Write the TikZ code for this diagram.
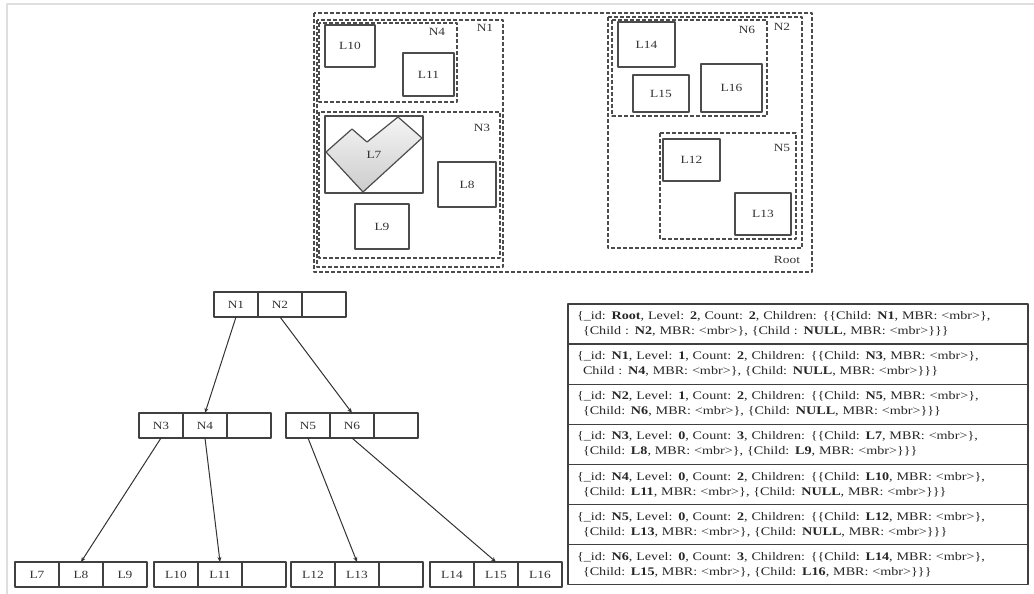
\documentclass[tikz,border=0pt]{standalone}
\usepackage{fontspec}
\setmainfont{Liberation Serif}[FakeStretch=1.22]
\usetikzlibrary{positioning,arrows.meta}

\begin{document}
\begin{tikzpicture}[x=1pt, y=-1pt, line join=round,
    mbr/.style={draw=black!70, line width=1.1pt, dash pattern=on 4pt off 2pt},
    leafbox/.style={draw=black!70, line width=1.4pt, inner sep=0pt, text=black!80, font=\fontsize{11}{13}\selectfont},
    tag/.style={text=black!80, inner sep=0pt, font=\fontsize{11}{13}\selectfont},
    cell/.style={draw=black!75, line width=1.3pt, minimum width=44pt, minimum height=25pt, inner sep=0pt, outer sep=0pt, text=black!80, font=\fontsize{11}{13}\selectfont},
    rowbox/.style={draw=black!75, line width=1.3pt, text width=442pt, inner xsep=9pt, inner ysep=0pt, minimum height=40.1pt, outer sep=0pt, align=left, text=black!85, font=\fontsize{11.6}{15}\selectfont},
    link/.style={draw=black!80, line width=1pt, line cap=round, -{Stealth[length=5pt,width=4pt]}}]
  \useasboundingbox (0,0) rectangle (1034,594);
  \draw[gray!25, line width=2pt] (7,594) -- (7,4) -- (1034,4);

  % spatial layout of the MBRs
  \shade[top color=gray!8, bottom color=gray!40, draw=black!70, line width=1.2pt]
    (326,152) -- (352,129) -- (367,142) -- (398,117) -- (422,138) -- (363,192) -- cycle;
  \foreach \n/\cx/\cy/\w/\h in {7/374/154.5/98/77, 8/467/184.5/58/45, 9/382/226.5/54/45,
      10/350/46/50/42, 11/428.5/74.5/51/43, 12/691.5/160/57/42, 13/763/214/56/42,
      14/646.5/44.5/57/45, 15/661/93.5/56/37, 16/731.5/88/61/48}
    \node[leafbox, minimum width=\w pt, minimum height=\h pt] (m\n) at (\cx,\cy) {L\n};
  \foreach \t/\xa/\ya/\xb/\yb/\lx/\ly in {Root/314/13/812/272/787/260, N1/317/20/503/267/485/28,
      N4/319/23/457/102/437/32, N3/319/112/500/258/482/128, N2/608/17/802/248/782/27,
      N6/612/20/767/116/747/30, N5/660/133/796/239/782/148} {
    \draw[mbr] (\xa,\ya) rectangle (\xb,\yb);
    \node[tag] (lab\t) at (\lx,\ly) {\t};
  }

  % R-tree
  \node[cell] (n1) at (236,304.5) {N1};
  \node[cell, right=0pt of n1] (n2) {N2};
  \node[cell, right=0pt of n2] (r3) {};
  \node[cell] (n3) at (161,425.5) {N3};
  \node[cell, right=0pt of n3] (n4) {N4};
  \node[cell, right=0pt of n4] (a3) {};
  \node[cell] (n5) at (308,425.5) {N5};
  \node[cell, right=0pt of n5] (n6) {N6};
  \node[cell, right=0pt of n6] (b3) {};
  \node[cell] (l7) at (37,574.5) {L7};
  \node[cell, right=0pt of l7] (l8) {L8};
  \node[cell, right=0pt of l8] (l9) {L9};
  \node[cell] (l10) at (176,574.5) {L10};
  \node[cell, right=0pt of l10] (l11) {L11};
  \node[cell, right=0pt of l11] (c3) {};
  \node[cell] (l12) at (313,574.5) {L12};
  \node[cell, right=0pt of l12] (l13) {L13};
  \node[cell, right=0pt of l13] (d3) {};
  \node[cell] (l14) at (452,574.5) {L14};
  \node[cell, right=0pt of l14] (l15) {L15};
  \node[cell, right=0pt of l15] (l16) {L16};
  \draw[link] (n1.south) -- (n4.north);
  \draw[link] (n2.south) -- (n6.north);
  \draw[link] (n3.south) -- (l8.north);
  \draw[link] (n4.south) -- (l11.north);
  \draw[link] (n5.south) -- (l13.north);
  \draw[link] (n6.south) -- (l15.north);

  % node records
  \node[rowbox, anchor=north west] (t0) at (568,304) {\{\_id: \textbf{Root}, Level: \textbf{2}, Count: \textbf{2}, Children: \{\{Child: \textbf{N1}, MBR: <mbr>\},\\
    \hspace*{6pt}\{Child : \textbf{N2}, MBR: <mbr>\}, \{Child : \textbf{NULL}, MBR: <mbr>\}\}\}};
  \node[rowbox, below=0pt of t0] (t1) {\{\_id: \textbf{N1}, Level: \textbf{1}, Count: \textbf{2}, Children: \{\{Child: \textbf{N3}, MBR: <mbr>\},\\
    \hspace*{6pt}Child : \textbf{N4}, MBR: <mbr>\}, \{Child: \textbf{NULL}, MBR: <mbr>\}\}\}};
  \node[rowbox, below=0pt of t1] (t2) {\{\_id: \textbf{N2}, Level: \textbf{1}, Count: \textbf{2}, Children: \{\{Child: \textbf{N5}, MBR: <mbr>\},\\
    \hspace*{6pt}\{Child: \textbf{N6}, MBR: <mbr>\}, \{Child: \textbf{NULL}, MBR: <mbr>\}\}\}};
  \node[rowbox, below=0pt of t2] (t3) {\{\_id: \textbf{N3}, Level: \textbf{0}, Count: \textbf{3}, Children: \{\{Child: \textbf{L7}, MBR: <mbr>\},\\
    \hspace*{6pt}\{Child: \textbf{L8}, MBR: <mbr>\}, \{Child: \textbf{L9}, MBR: <mbr>\}\}\}};
  \node[rowbox, below=0pt of t3] (t4) {\{\_id: \textbf{N4}, Level: \textbf{0}, Count: \textbf{2}, Children: \{\{Child: \textbf{L10}, MBR: <mbr>\},\\
    \hspace*{6pt}\{Child: \textbf{L11}, MBR: <mbr>\}, \{Child: \textbf{NULL}, MBR: <mbr>\}\}\}};
  \node[rowbox, below=0pt of t4] (t5) {\{\_id: \textbf{N5}, Level: \textbf{0}, Count: \textbf{2}, Children: \{\{Child: \textbf{L12}, MBR: <mbr>\},\\
    \hspace*{6pt}\{Child: \textbf{L13}, MBR: <mbr>\}, \{Child: \textbf{NULL}, MBR: <mbr>\}\}\}};
  \node[rowbox, below=0pt of t5] (t6) {\{\_id: \textbf{N6}, Level: \textbf{0}, Count: \textbf{3}, Children: \{\{Child: \textbf{L14}, MBR: <mbr>\},\\
    \hspace*{6pt}\{Child: \textbf{L15}, MBR: <mbr>\}, \{Child: \textbf{L16}, MBR: <mbr>\}\}\}};
\end{tikzpicture}
\end{document}
